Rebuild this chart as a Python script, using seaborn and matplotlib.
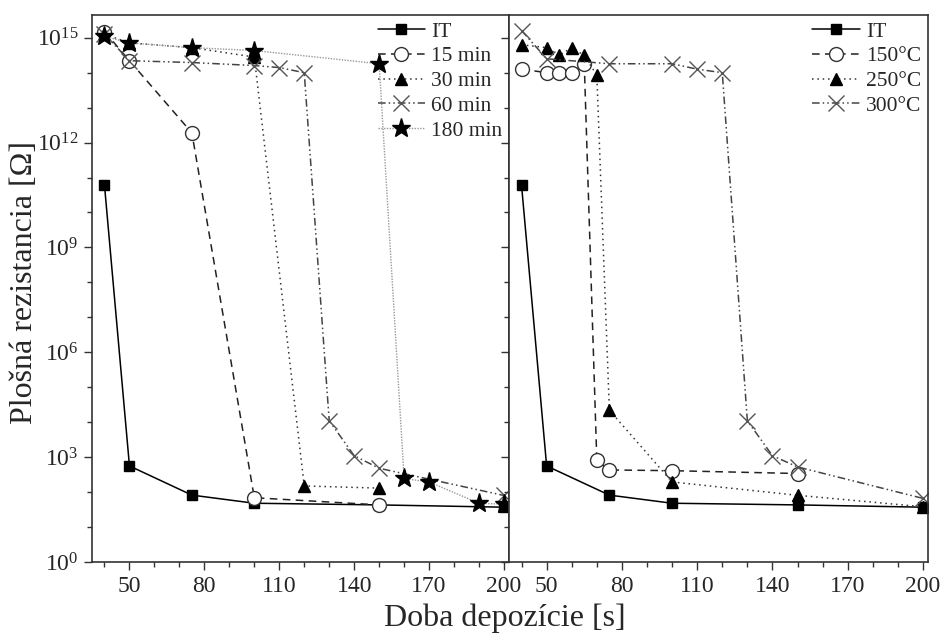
import numpy as np
import pandas as pd
import matplotlib
matplotlib.use('Agg')
import matplotlib.pyplot as plt
import seaborn as sns
from matplotlib.ticker import FixedLocator, FuncFormatter, NullFormatter

# ---------------- data ----------------
it_x = [40, 50, 75, 100, 150, 200]
it_y = [6e10, 560, 82, 48, 43, 37]

m15_x = [40, 50, 75, 100, 150]
m15_y = [1.5e15, 2.2e14, 1.9e12, 69, 43]

m30_x = [40, 50, 75, 100, 120, 150]
m30_y = [1.26e15, 7.1e14, 5.2e14, 2.8e14, 150, 130]

m60_x = [40, 50, 75, 100, 110, 120, 130, 140, 150, 200]
m60_y = [1.26e15, 2.2e14, 1.95e14, 1.6e14, 1.4e14, 1.0e14, 1.1e4, 1.1e3, 480, 80]

m180_x = [40, 50, 75, 100, 150, 160, 170, 190, 200]
m180_y = [1.1e15, 7.1e14, 5.2e14, 4.3e14, 1.8e14, 245, 195, 48, 45]

t150_x = [40, 50, 55, 60, 65, 70, 75, 100, 150]
t150_y = [1.26e14, 1.0e14, 1.0e14, 1.0e14, 1.8e14, 810, 430, 410, 340]

t250_x = [40, 50, 55, 60, 65, 70, 75, 100, 150, 200]
t250_y = [6.3e14, 5.2e14, 3.1e14, 5.2e14, 3.1e14, 8.5e13, 2.2e4, 195, 81, 38]

t300_x = [40, 50, 75, 100, 110, 120, 130, 140, 150, 200]
t300_y = [1.6e15, 2.5e14, 1.8e14, 1.8e14, 1.26e14, 1.0e14, 1.1e4, 1.1e3, 525, 66]

left_labels = ["IT", "15 min", "30 min", "60 min", "180 min"]
right_labels = ["IT", "150°C", "250°C", "300°C"]

x_major = [50, 80, 110, 140, 170, 200]
y_major_exp = [0, 3, 6, 9, 12, 15]

xlabel = "Doba depozície [s]"
ylabel = "Plošná rezistancia [Ω]"

# ---------------- style ----------------
sns.set_theme(style='white')
plt.rcParams['font.family'] = ['Liberation Serif', 'DejaVu Serif']
plt.rcParams['mathtext.fontset'] = 'custom'
plt.rcParams['mathtext.rm'] = 'Liberation Serif'
plt.rcParams['mathtext.it'] = 'Liberation Serif:italic'
plt.rcParams['mathtext.bf'] = 'Liberation Serif:bold'

styles = {
    'IT':   dict(color='black', linestyle='-', linewidth=1.1, marker='s', markersize=7,
                 markerfacecolor='black', markeredgecolor='black', markeredgewidth=1),
    'dash': dict(color='#222222', linestyle=(0, (5, 3.5)), linewidth=1.1, marker='o', markersize=10,
                 markerfacecolor='white', markeredgecolor='#333333', markeredgewidth=1),
    'dot':  dict(color='#333333', linestyle=(0, (1, 2.5)), linewidth=1.1, marker='^', markersize=9,
                 markerfacecolor='black', markeredgecolor='black', markeredgewidth=1),
    'dd':   dict(color='#444444', linestyle=(0, (5, 2, 1, 2, 1, 2)), linewidth=1.1, marker='x', markersize=11,
                 markerfacecolor='none', markeredgecolor='#555555', markeredgewidth=1.0),
    'star': dict(color='#999999', linestyle=(0, (1, 1)), linewidth=1.0, marker='*', markersize=14,
                 markerfacecolor='black', markeredgecolor='black', markeredgewidth=1),
}

fig = plt.figure(figsize=(9.41, 6.34), dpi=100)
L = 92 / 941
M = 509 / 941
R = 928 / 941
B = 1 - 562 / 634
T = 1 - 15 / 634
ax1 = fig.add_axes([L, B, M - L, T - B])
ax2 = fig.add_axes([M, B, R - M, T - B])

left_series = [(it_x, it_y, 'IT'), (m15_x, m15_y, 'dash'), (m30_x, m30_y, 'dot'),
               (m60_x, m60_y, 'dd'), (m180_x, m180_y, 'star')]
right_series = [(it_x, it_y, 'IT'), (t150_x, t150_y, 'dash'), (t250_x, t250_y, 'dot'),
                (t300_x, t300_y, 'dd')]

for ax, series, labels in [(ax1, left_series, left_labels), (ax2, right_series, right_labels)]:
    ax.set_yscale('log')
    for (xs, ys, key), lab in zip(series, labels):
        df = pd.DataFrame({'x': xs, 'y': ys})
        sns.lineplot(data=df, x='x', y='y', ax=ax, sort=False, estimator=None,
                     label=lab, **styles[key])
    ax.set_xlim(35, 202)
    ax.set_ylim(1, 10 ** 15.65)
    ax.xaxis.set_major_locator(FixedLocator(x_major))
    ax.xaxis.set_minor_locator(FixedLocator(list(range(40, 201, 10))))
    ax.yaxis.set_major_locator(FixedLocator([10.0 ** e for e in y_major_exp]))
    ax.yaxis.set_minor_locator(FixedLocator([10.0 ** e for e in range(0, 16) if e % 3 != 0]))
    ax.yaxis.set_minor_formatter(NullFormatter())
    ax.set_xlabel('')
    ax.set_ylabel('')
    for s in ax.spines.values():
        s.set_color('#333333')
        s.set_linewidth(1.2)
    ax.tick_params(axis='both', which='major', direction='out', length=6, width=1,
                   color='#333333', labelsize=17, pad=4)
    ax.tick_params(axis='both', which='minor', direction='out', length=3.5, width=1,
                   color='#333333')
    ax.tick_params(axis='y', which='both', left=True, right=False)
    ax.tick_params(axis='x', which='both', bottom=True, top=False)
    ax.legend(loc='upper right', frameon=False, fontsize=15.5, handlelength=2.2,
              labelspacing=0.22, handletextpad=0.3, borderaxespad=0.1, borderpad=0.2)

ax1.yaxis.set_major_formatter(FuncFormatter(lambda v, p: r'$\mathregular{10^{%d}}$' % round(np.log10(v))))
ax2.yaxis.set_major_formatter(NullFormatter())
ax2.tick_params(axis='y', which='both', labelleft=False)

fig.text(0.5 * (L + R) - 0.005, 0.025, xlabel, ha='center', va='center', fontsize=23)
fig.text(0.026, 0.5 * (B + T) + 0.01, ylabel, ha='center', va='center', rotation=90, fontsize=23)

fig.savefig('out.png', dpi=100)
